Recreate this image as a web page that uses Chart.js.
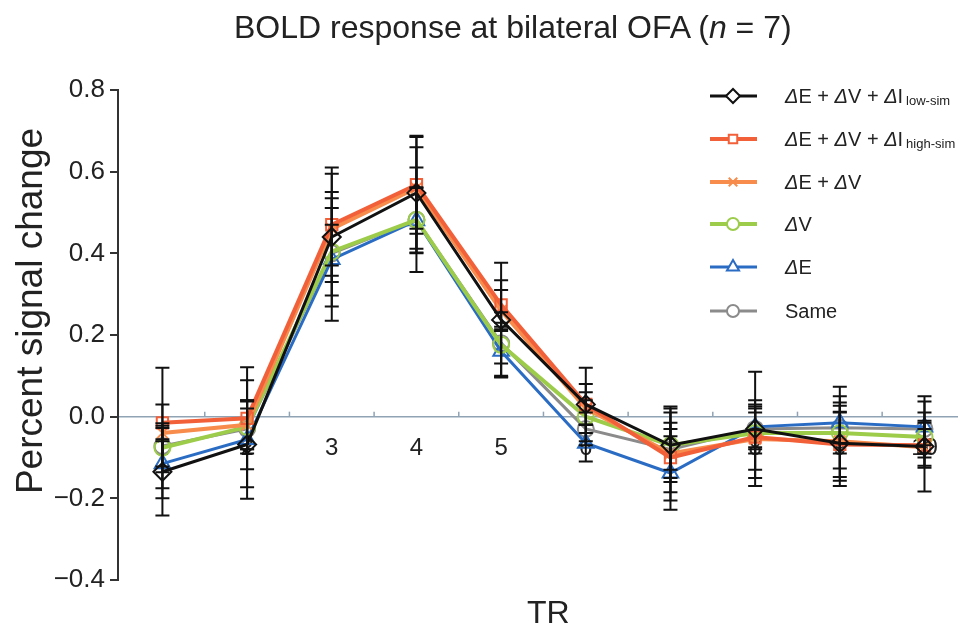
<!DOCTYPE html>
<html>
<head>
<meta charset="utf-8">
<script src="https://cdn.jsdelivr.net/npm/chart.js@4.4.1/dist/chart.umd.min.js"></script>
<style>
  body { margin: 0; background: #fff; }
  #wrap { position: relative; width: 968px; height: 629px; overflow: hidden;
          font-family: "Liberation Sans", Arial, sans-serif; color: #222; }
  canvas { position: absolute; left: 0; top: 0; }
  .txt { position: absolute; white-space: nowrap; }
  #title { left: 234px; top: 9px; font-size: 32px; line-height: 36px; }
  #xtitle { left: 527px; top: 594px; font-size: 32px; line-height: 36px; }
  #ytitle { left: -220px; top: 291px; width: 500px; text-align: center; font-size: 37px;
            line-height: 40px; transform: rotate(-90deg); }
  .leg { left: 785px; font-size: 20px; line-height: 24px; }
  .leg small { font-size: 13px; vertical-align: -2px; margin-left: 3px; }
</style>
</head>
<body>
<div id="wrap">
  <canvas id="chart" width="968" height="629"></canvas>
  <div class="txt" id="title">BOLD response at bilateral OFA (<i>n</i> = 7)</div>
  <div class="txt" id="ytitle">Percent signal change</div>
  <div class="txt" id="xtitle">TR</div>
  <div id="legend"></div>
</div>
<script>
const tr = [1, 2, 3, 4, 5, 6, 7, 8, 9, 10];
const yTicks = [-0.4, -0.2, 0, 0.2, 0.4, 0.6, 0.8];

// mean percent signal change per TR
const lowSim  = [-0.135, -0.068, 0.44, 0.548, 0.237, 0.03, -0.07, -0.03, -0.065, -0.073];
const highSim = [-0.015, -0.004, 0.47, 0.568, 0.274, 0.03, -0.10, -0.05, -0.068, -0.07];
const dEdV    = [-0.04, -0.02, 0.46, 0.56, 0.26, 0.02, -0.09, -0.055, -0.06, -0.075];
const dV      = [-0.076, -0.025, 0.404, 0.482, 0.176, 0.0, -0.07, -0.04, -0.04, -0.05];
const dE      = [-0.115, -0.056, 0.385, 0.48, 0.16, -0.065, -0.138, -0.025, -0.015, -0.025];
const same    = [-0.072, -0.03, 0.40, 0.482, 0.18, -0.03, -0.08, -0.03, -0.027, -0.03];

// error bar half-lengths
const errLow  = [0.107, 0.105, 0.17, 0.137, 0.14, 0.09, 0.09, 0.14, 0.092, 0.11];
const errHigh = [0.045, 0.125, 0.125, 0.12, 0.06, 0.05, 0.085, 0.08, 0.08, 0.055];
const errEV   = [0.16, 0.06, 0.09, 0.10, 0.05, 0.04, 0.115, 0.095, 0.11, 0.045];
const errV    = [0.06, 0.065, 0.107, 0.128, 0.08, 0.04, 0.08, 0.05, 0.05, 0.04];
const errE    = [0.06, 0.145, 0.15, 0.08, 0.06, 0.045, 0.09, 0.05, 0.05, 0.075];
const errSame = [0.05, 0.05, 0.07, 0.08, 0.05, 0.04, 0.05, 0.05, 0.10, 0.04];

const legendLabels = [
  '<i>Δ</i>E + <i>Δ</i>V + <i>Δ</i>I<small>low-sim</small>',
  '<i>Δ</i>E + <i>Δ</i>V + <i>Δ</i>I<small>high-sim</small>',
  '<i>Δ</i>E + <i>Δ</i>V',
  '<i>Δ</i>V',
  '<i>Δ</i>E',
  'Same'
];
const legendRows = [96, 139, 182, 224, 267, 311];

const ZERO = "#8fa3b5";

function series(label, vals, color, style, radius, width) {
  return {
    label,
    data: tr.map((t, i) => ({ x: t, y: vals[i] })),
    borderColor: color,
    borderWidth: width,
    pointStyle: style,
    pointRadius: radius,
    pointBorderWidth: 2,
    pointBorderColor: color,
    pointBackgroundColor: "rgba(0,0,0,0)",
    tension: 0,
  };
}

const datasets = [
  series(legendLabels[0], lowSim, "#111111", "rectRot", 9, 3),
  series(legendLabels[1], highSim, "#f2603a", "rect", 8, 4),
  series(legendLabels[2], dEdV, "#f78c4c", "crossRot", 8, 4),
  series(legendLabels[3], dV, "#9ccc4a", "circle", 8, 4),
  series(legendLabels[4], dE, "#2a6cc4", "triangle", 9, 3),
  series(legendLabels[5], same, "#8b8b8b", "circle", 8, 3),
];
const errors = [errLow, errHigh, errEV, errV, errE, errSame];

const extras = {
  id: "extras",
  beforeDatasetsDraw(chart) {
    const { ctx, scales: { x, y } } = chart;
    const y0 = y.getPixelForValue(0);
    ctx.save();
    ctx.strokeStyle = ZERO;
    ctx.lineWidth = 1.5;
    for (let k = 1; k < tr.length; k++) {
      const px = x.getPixelForValue(tr[k - 1] + 0.5);
      ctx.beginPath();
      ctx.moveTo(px, y0 - 5);
      ctx.lineTo(px, y0);
      ctx.stroke();
    }
    ctx.restore();
  },
  afterDatasetsDraw(chart) {
    const { ctx, scales: { x, y } } = chart;
    ctx.save();
    ctx.strokeStyle = "#111";
    ctx.lineWidth = 2;
    errors.forEach((errs, i) => {
      const means = chart.data.datasets[i].data;
      errs.forEach((e, j) => {
        const px = x.getPixelForValue(means[j].x);
        const top = y.getPixelForValue(means[j].y + e);
        const bot = y.getPixelForValue(means[j].y - e);
        ctx.beginPath();
        ctx.moveTo(px, top); ctx.lineTo(px, bot);
        ctx.moveTo(px - 7, top); ctx.lineTo(px + 7, top);
        ctx.moveTo(px - 7, bot); ctx.lineTo(px + 7, bot);
        ctx.stroke();
      });
    });
    // legend symbols
    chart.data.datasets.forEach((ds, i) => {
      const ry = legendRows[i];
      ctx.strokeStyle = ds.borderColor;
      ctx.lineWidth = ds.borderWidth;
      ctx.beginPath();
      ctx.moveTo(710, ry); ctx.lineTo(757, ry);
      ctx.stroke();
      ctx.fillStyle = "#fff";
      ctx.lineWidth = 2;
      Chart.helpers.drawPoint(ctx, {
        pointStyle: ds.pointStyle, radius: ds.pointRadius - 2, borderWidth: 2, rotation: 0
      }, 733, ry);
    });
    ctx.restore();
  }
};

const legendEl = document.getElementById("legend");
legendEl.innerHTML = legendLabels.map((l, i) =>
  `<div class="txt leg" style="top:${legendRows[i] - 12}px">${l}</div>`).join("");

new Chart(document.getElementById("chart"), {
  type: "line",
  data: { datasets },
  plugins: [extras],
  options: {
    responsive: false,
    animation: false,
    devicePixelRatio: 1,
    layout: { padding: { top: 90, bottom: 49, left: 0, right: 0 } },
    plugins: { legend: { display: false }, tooltip: { enabled: false }, title: { display: false } },
    scales: {
      x: {
        type: "linear",
        position: { y: 0 },
        min: 0.4754,
        max: 10.384,
        afterBuildTicks: (scale) => { scale.ticks = tr.map(v => ({ value: v })); },
        grid: { display: false, drawTicks: false },
        border: { display: true, color: ZERO, width: 1.5 },
        ticks: {
          padding: 17,
          color: "#222",
          font: { family: "Liberation Sans", size: 24 },
          maxRotation: 0,
          autoSkip: false,
          callback: (v) => String(v),
        },
      },
      y: {
        min: -0.4,
        max: 0.8,
        afterBuildTicks: (scale) => { scale.ticks = yTicks.map(v => ({ value: v })); },
        afterFit: (scale) => { scale.width = 118; },
        grid: { drawOnChartArea: false, drawTicks: true, tickLength: 8, color: "#333", lineWidth: 2 },
        border: { display: true, color: "#333", width: 2 },
        ticks: {
          padding: 5,
          color: "#222",
          font: { family: "Liberation Sans", size: 26 },
          callback: (v) => (Math.abs(v) < 1e-9 ? "0.0" : v.toFixed(1).replace("-", "\u2212")),
        },
      },
    },
  },
});
</script>
</body>
</html>
